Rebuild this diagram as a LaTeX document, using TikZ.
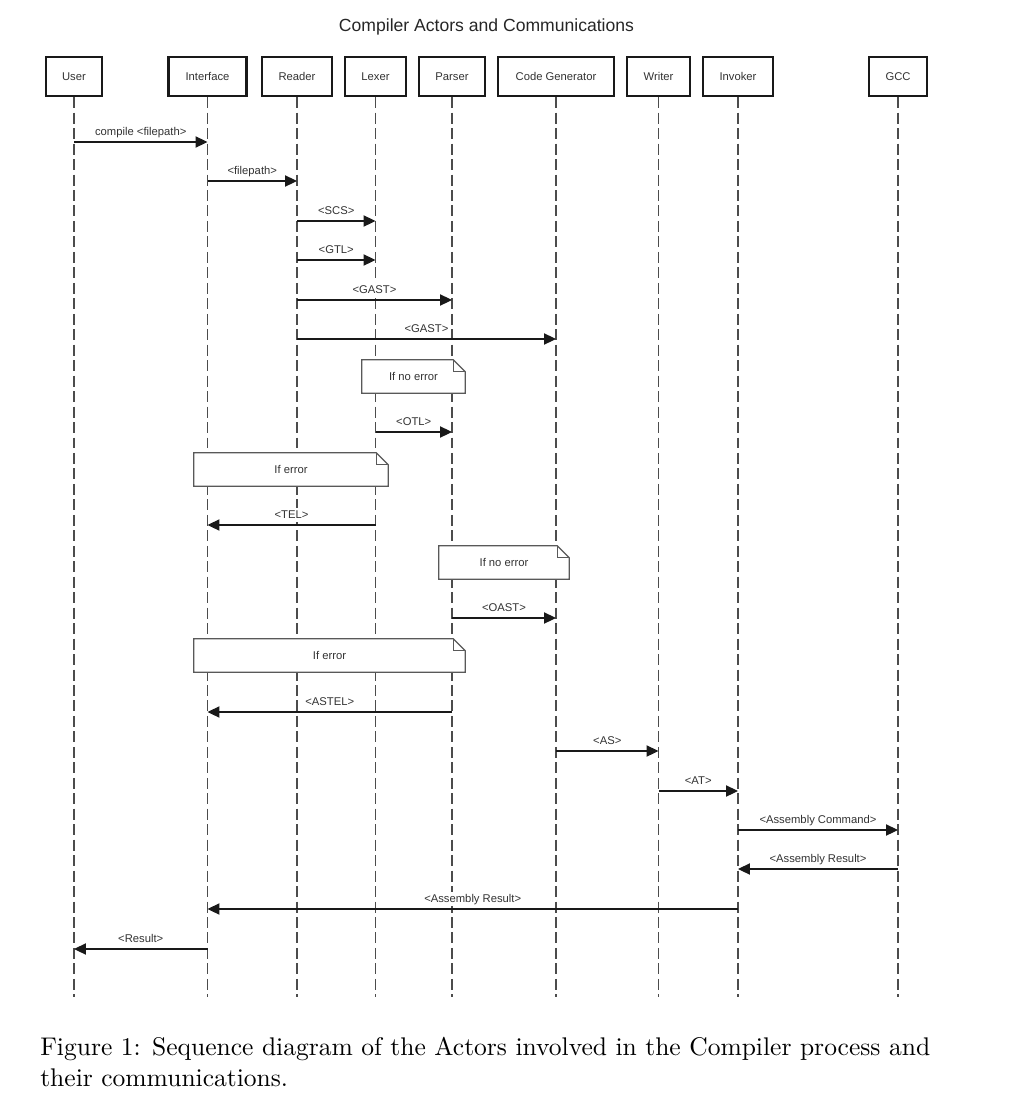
\documentclass[tikz,border=0pt]{standalone}
\usepackage{fontspec}
\usepackage{graphicx}
\usepackage{tikz}
\usetikzlibrary{arrows.meta,positioning,calc}
\newfontfamily\sdfont{Liberation Sans}
\tikzset{
	actor/.style={rectangle, draw=black!90, line width=1.7pt, fill=white, minimum height=0.975cm,
		font=\sdfont\fontsize{8}{10}\selectfont, text=black!80, inner sep=2pt},
	lifeline/.style={draw=black!70, line width=1pt, dash pattern=on 7.8pt off 3.2pt},
	msg/.style={-{Triangle[length=8.5pt,width=8pt]}, line width=0.8pt, draw=black!90},
	msglabel/.style={font=\sdfont\fontsize{8}{10}\selectfont, text=black!80, inner sep=1pt,
		fill=white, text height=6pt, text depth=1.5pt},
	notebox/.style={rectangle, fill=white, minimum height=0.825cm, font=\sdfont\fontsize{8}{10}\selectfont, text=black!80},
	noteline/.style={draw=black!65, line width=0.9pt}
}
\begin{document}
\begin{tikzpicture}[x=0.025cm, y=-0.025cm]
	\useasboundingbox (0,0) rectangle (1010,1118);
	\node[font=\sdfont\fontsize{12.5}{15}\selectfont, text=black!85] (title) at (486.5,27) {Compiler Actors and Communications};
	\node[actor, minimum width=1.4cm] (user) at (74,76.5) {User};
	\node[actor, minimum width=1.95cm] (iface) at (207.5,76.5) {Interface};
	\node[actor, minimum width=1.75cm] (reader) at (297,76.5) {Reader};
	\node[actor, minimum width=1.525cm] (lexer) at (375.5,76.5) {Lexer};
	\node[actor, minimum width=1.65cm] (parser) at (452,76.5) {Parser};
	\node[actor, minimum width=2.9cm] (codegen) at (556,76.5) {Code Generator};
	\node[actor, minimum width=1.575cm] (writer) at (658.5,76.5) {Writer};
	\node[actor, minimum width=1.75cm] (invoker) at (738,76.5) {Invoker};
	\node[actor, minimum width=1.45cm] (gcc) at (898,76.5) {GCC};
	\coordinate (bottom) at (0,997);
	\foreach \n in {user,iface,reader,lexer,parser,codegen,writer,invoker,gcc}
		\draw[lifeline] (\n.south) -- (\n |- bottom);
	\node[notebox, minimum width=2.575cm] (okLex) at (413.5,376.5) {If no error};
	\node[notebox, minimum width=4.85cm] (errLex) at (291,469.5) {If error};
	\node[notebox, minimum width=3.25cm] (okParse) at (504,562.5) {If no error};
	\node[notebox, minimum width=6.775cm] (errParse) at (329.5,655.5) {If error};
	\foreach \n in {okLex,errLex,okParse,errParse}{
		\draw[noteline] (\n.north west) -- ([xshift=-0.3cm]\n.north east) -- ([yshift=-0.3cm]\n.north east) |- (\n.south west) -- cycle;
		\draw[noteline] ([xshift=-0.3cm]\n.north east) |- ([yshift=-0.3cm]\n.north east);
	}
	\foreach \a/\b/\y/\txt in {
		user/iface/142/{compile <filepath>},
		iface/reader/181/{<filepath>},
		reader/lexer/221/{<SCS>},
		reader/lexer/260/{<GTL>},
		reader/parser/300/{<GAST>},
		reader/codegen/339/{<GAST>},
		lexer/parser/432/{<OTL>},
		lexer/iface/525/{<TEL>},
		parser/codegen/618/{<OAST>},
		parser/iface/712/{<ASTEL>},
		codegen/writer/751/{<AS>},
		writer/invoker/791/{<AT>},
		invoker/gcc/830/{<Assembly Command>},
		gcc/invoker/869/{<Assembly Result>},
		invoker/iface/909/{<Assembly Result>},
		iface/user/949/{<Result>}}
		\draw[msg] (\a |- 0,\y) -- (\b |- 0,\y) node[msglabel, midway, above=2pt] {\txt};
	\node[anchor=north west, inner sep=0, font=\fontsize{10}{12}\selectfont] (caption) at (40,1034)
		{\scalebox{1.816}{\begin{tabular}{@{}l@{}}Figure 1: Sequence diagram of the Actors involved in the Compiler process and\\their communications.\end{tabular}}};
\end{tikzpicture}
\end{document}
